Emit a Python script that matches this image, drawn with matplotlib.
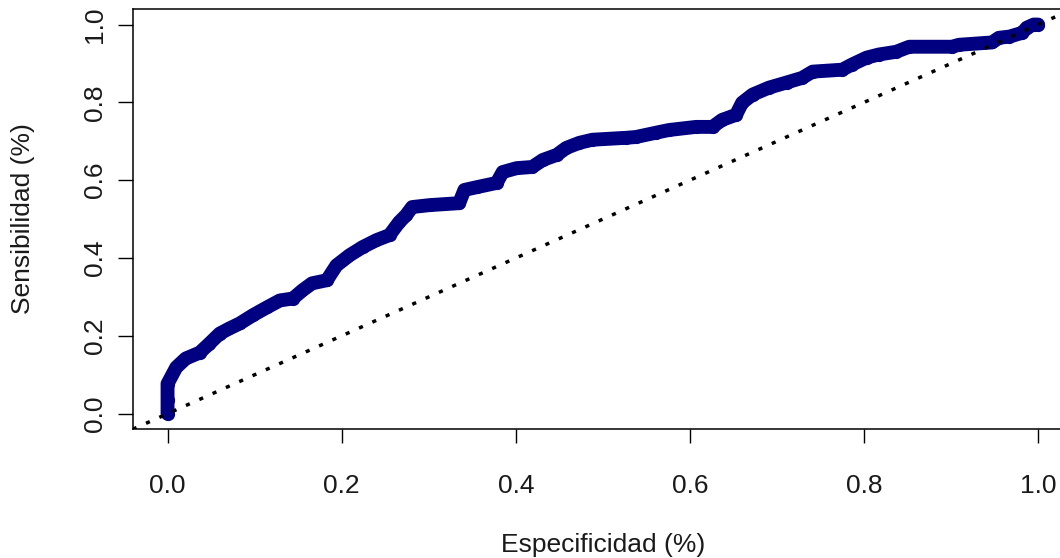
import matplotlib
matplotlib.use("Agg")
import matplotlib.pyplot as plt

plt.rcParams['font.family'] = ['Liberation Sans', 'DejaVu Sans']

# ROC curve points (1 - specificity, sensitivity)
especificidad = [0.000, 0.000, 0.000, 0.010, 0.021, 0.037, 0.048, 0.060, 0.071,
                 0.083, 0.098, 0.114, 0.129, 0.144, 0.155, 0.166, 0.183, 0.194,
                 0.209, 0.224, 0.240, 0.255, 0.266, 0.274, 0.281, 0.301, 0.335,
                 0.341, 0.355, 0.378, 0.385, 0.401, 0.419, 0.431, 0.447, 0.458,
                 0.473, 0.488, 0.527, 0.538, 0.561, 0.576, 0.607, 0.626, 0.637,
                 0.653, 0.660, 0.672, 0.691, 0.711, 0.729, 0.741, 0.775, 0.786,
                 0.803, 0.817, 0.837, 0.852, 0.901, 0.909, 0.947, 0.955, 0.967,
                 0.982, 0.987, 0.995, 1.000]
sensibilidad = [0.000, 0.034, 0.077, 0.119, 0.142, 0.157, 0.180, 0.206, 0.219,
                0.232, 0.253, 0.273, 0.291, 0.296, 0.317, 0.335, 0.343, 0.381,
                0.407, 0.428, 0.446, 0.459, 0.492, 0.510, 0.531, 0.536, 0.541,
                0.575, 0.582, 0.593, 0.621, 0.631, 0.634, 0.652, 0.665, 0.683,
                0.696, 0.704, 0.709, 0.711, 0.722, 0.729, 0.737, 0.737, 0.755,
                0.768, 0.799, 0.820, 0.838, 0.851, 0.863, 0.879, 0.884, 0.897,
                0.915, 0.923, 0.930, 0.943, 0.943, 0.948, 0.954, 0.966, 0.969,
                0.979, 0.992, 1.000, 1.000]
ticks = [0.0, 0.2, 0.4, 0.6, 0.8, 1.0]
tick_labels = ['0.0', '0.2', '0.4', '0.6', '0.8', '1.0']

fig = plt.figure(figsize=(10.6, 5.58), dpi=100)
# R-style plot region; the right edge runs off the picture like the original
ax = fig.add_axes([0.1252, 0.2307, 0.887, 0.7532])

ax.plot(especificidad, sensibilidad, color='#000080', lw=10,
        solid_joinstyle='round', solid_capstyle='round',
        marker='o', markersize=8, markerfacecolor='none',
        markeredgecolor='#000080', markeredgewidth=1.5, zorder=2)

# chance diagonal
ax.axline((0, 0), (1, 1), color='black', lw=2.5,
          linestyle=(0, (1.2, 3)), dash_capstyle='butt', zorder=3)

ax.set_xlim(-0.04, 1.04)
ax.set_ylim(-0.04, 1.04)
ax.set_xticks(ticks)
ax.set_xticklabels(tick_labels)
ax.set_yticks(ticks)
ax.set_yticklabels(tick_labels, rotation=90, va='center')

ax.tick_params(axis='x', direction='out', length=10, width=1, pad=22,
               labelsize=19, labelcolor='#1a1a1a', colors='black')
ax.tick_params(axis='y', direction='out', length=10.5, width=1, pad=8,
               labelsize=19, labelcolor='#1a1a1a', colors='black')
for s in ax.spines.values():
    s.set_linewidth(1.1)
    s.set_color('black')

fig.text(603 / 1060, 1 - 545 / 558, 'Especificidad (%)', ha='center',
         va='center', fontsize=19, color='#1a1a1a')
fig.text(23 / 1060, 1 - 219 / 558, 'Sensibilidad (%)', ha='center',
         va='center', rotation=90, fontsize=19, color='#1a1a1a')

fig.savefig('out.png', dpi=100)
